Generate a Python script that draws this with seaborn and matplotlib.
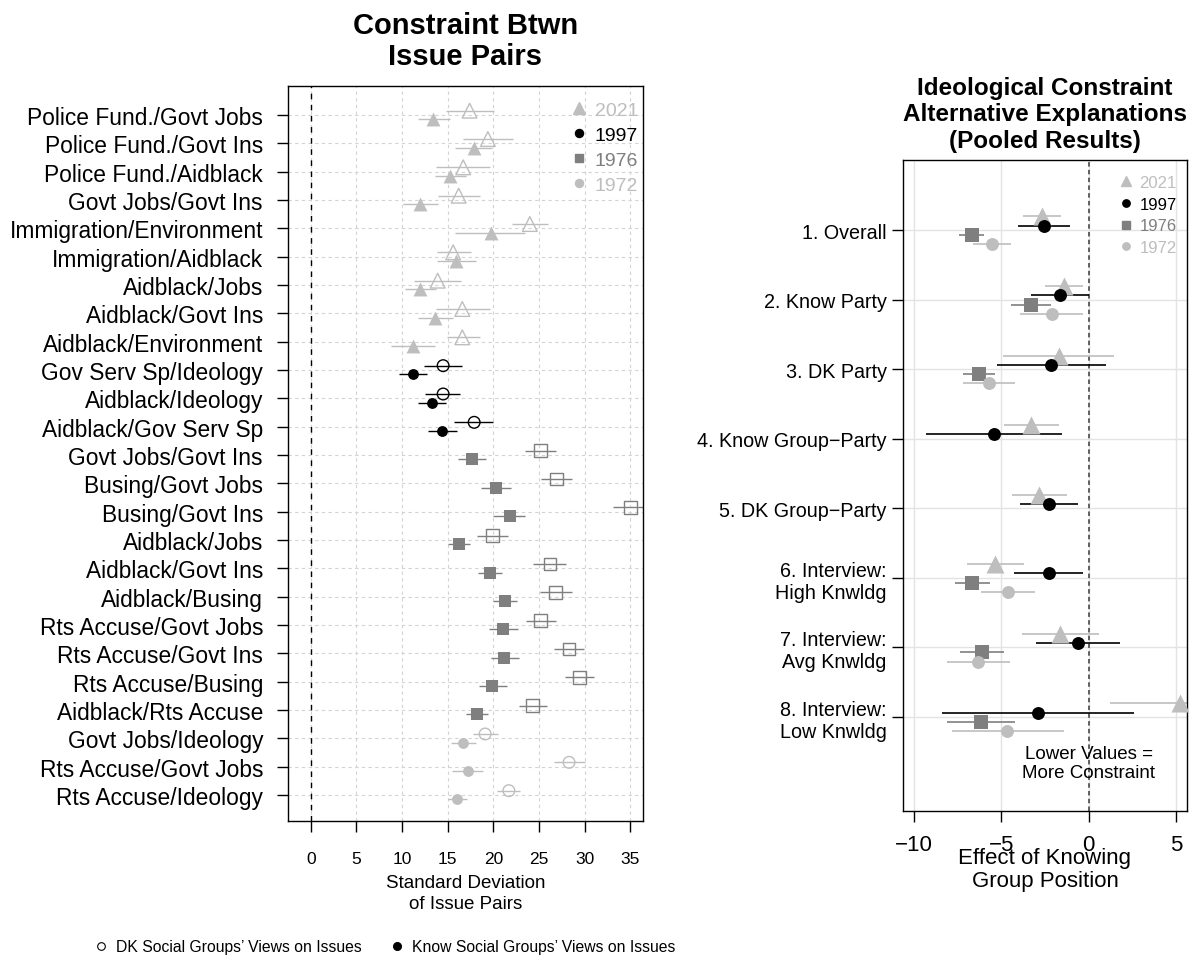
import numpy as np
import pandas as pd
import matplotlib
matplotlib.use("Agg")
import matplotlib.pyplot as plt
from matplotlib.lines import Line2D
import seaborn as sns

nan = np.nan

# ---- left panel data: SD of issue pairs ----
pairs = ["Police Fund./Govt Jobs", "Police Fund./Govt Ins", "Police Fund./Aidblack",
         "Govt Jobs/Govt Ins", "Immigration/Environment", "Immigration/Aidblack",
         "Aidblack/Jobs", "Aidblack/Govt Ins", "Aidblack/Environment",
         "Gov Serv Sp/Ideology", "Aidblack/Ideology", "Aidblack/Gov Serv Sp",
         "Govt Jobs/Govt Ins", "Busing/Govt Jobs", "Busing/Govt Ins", "Aidblack/Jobs",
         "Aidblack/Govt Ins", "Aidblack/Busing", "Rts Accuse/Govt Jobs",
         "Rts Accuse/Govt Ins", "Rts Accuse/Busing", "Aidblack/Rts Accuse",
         "Govt Jobs/Ideology", "Rts Accuse/Govt Jobs", "Rts Accuse/Ideology"]
pair_year = [2021] * 9 + [1997] * 3 + [1976] * 10 + [1972] * 3

know_est = [13.4, 17.9, 15.3, 12.0, 19.7, 15.9, 12.0, 13.6, 11.2, 11.2, 13.3, 14.4,
            17.7, 20.3, 21.8, 16.2, 19.6, 21.3, 21.1, 21.2, 19.9, 18.2, 16.7, 17.2, 16.0]
know_lo = [11.7, 15.8, 13.6, 10.1, 15.8, 13.8, 10.3, 11.7, 8.8, 9.7, 11.7, 12.8,
           16.1, 18.7, 20.0, 15.0, 18.3, 20.0, 19.5, 19.7, 18.4, 17.0, 15.4, 15.5, 15.0]
know_hi = [15.2, 19.9, 17.0, 13.9, 23.5, 18.1, 13.7, 15.6, 13.6, 12.7, 14.8, 16.0,
           19.2, 21.9, 23.5, 17.4, 21.0, 22.6, 22.7, 22.8, 21.5, 19.4, 18.1, 18.9, 17.1]
dk_est = [17.4, 19.4, 16.7, 16.2, 24.0, 15.6, 13.9, 16.6, 16.6, 14.5, 14.5, 17.9,
          25.2, 26.9, 35.0, 19.9, 26.2, 26.8, 25.2, 28.3, 29.4, 24.3, 19.1, 28.3, 21.7]
dk_lo = [14.8, 16.7, 13.7, 13.9, 22.0, 13.8, 11.3, 13.7, 14.9, 12.4, 12.5, 15.7,
         23.5, 25.2, 33.1, 18.2, 24.4, 25.1, 23.6, 26.6, 27.9, 22.8, 17.8, 26.7, 20.4]
dk_hi = [20.1, 22.2, 19.6, 18.5, 26.0, 17.5, 16.5, 19.6, 18.5, 16.6, 16.4, 20.0,
         26.9, 28.6, 36.9, 21.6, 28.0, 28.6, 26.9, 29.9, 31.0, 25.9, 20.5, 30.0, 22.9]

# ---- right panel data: pooled models ----
models = ["1. Overall", "2. Know Party", "3. DK Party", "4. Know Group\u2212Party",
          "5. DK Group\u2212Party", "6. Interview:\nHigh Knwldg",
          "7. Interview:\nAvg Knwldg", "8. Interview:\nLow Knwldg"]
est_2021 = [-2.69, -1.41, -1.72, -3.28, -2.83, -5.34, -1.64, 5.19]
lo_2021 = [-3.74, -2.50, -4.92, -4.83, -4.37, -6.95, -3.84, 1.20]
hi_2021 = [-1.59, -0.31, 1.47, -1.72, -1.26, -3.72, 0.57, 9.20]
est_1997 = [-2.56, -1.64, -2.14, -5.44, -2.29, -2.29, -0.61, -2.88]
lo_1997 = [-4.03, -3.28, -5.25, -9.31, -3.93, -4.26, -3.02, -8.36]
hi_1997 = [-1.07, 0.02, 0.99, -1.55, -0.63, -0.31, 1.79, 2.58]
est_1976 = [-6.70, -3.30, -6.30, nan, nan, -6.68, -6.11, -6.16]
lo_1976 = [-7.42, -4.47, -7.19, nan, nan, -7.67, -7.35, -8.09]
hi_1976 = [-5.97, -2.14, -5.36, nan, nan, -5.67, -4.87, -4.20]
est_1972 = [-5.53, -2.12, -5.71, nan, nan, -4.64, -6.32, -4.66]
lo_1972 = [-6.64, -3.91, -7.19, nan, nan, -6.18, -8.13, -7.82]
hi_1972 = [-4.43, -0.34, -4.24, nan, nan, -3.07, -4.49, -1.41]

years = [2021, 1997, 1976, 1972]
year_col = {2021: "#bebebe", 1997: "#000000", 1976: "#7f7f7f", 1972: "#bebebe"}
year_mk = {2021: "^", 1997: "o", 1976: "s", 1972: "o"}

sns.set_theme(style="white")
plt.rcParams["font.family"] = ["Liberation Sans", "DejaVu Sans"]
plt.rcParams["text.color"] = "black"
plt.rcParams["axes.labelcolor"] = "black"

W, H = 1196, 978
fig = plt.figure(figsize=(W / 100, H / 100), dpi=100)


def px_axes(x0, y0, x1, y1):
    return fig.add_axes([x0 / W, 1 - y1 / H, (x1 - x0) / W, (y1 - y0) / H])


# ================= left panel =================
ax = px_axes(288, 87.3, 643, 821.7)
df = pd.DataFrame({"pair": pairs, "year": pair_year, "row": np.arange(len(pairs)),
                   "know": know_est, "know_lo": know_lo, "know_hi": know_hi,
                   "dk": dk_est, "dk_lo": dk_lo, "dk_hi": dk_hi})
df["y_know"] = df["row"] + 0.15
df["y_dk"] = df["row"] - 0.15

ax.set_xlim(-2.5, 36.4)
ax.set_ylim(24.91, -1.01)
for v in range(0, 40, 5):
    ax.axvline(v, color="#d3d3d3", lw=0.8, ls=(0, (3, 3)), zorder=0)
for r in df["row"]:
    ax.axhline(r, color="#d3d3d3", lw=0.8, ls=(0, (3, 3)), zorder=0)
ax.axvline(0, color="black", lw=1.0, ls=(0, (4, 4)), zorder=1)

sizes_left = {"^": 10.0, "o": 7.8, "s": 8.6}
for yr in years:
    sub = df[df["year"] == yr]
    c, m = year_col[yr], year_mk[yr]
    ms = sizes_left[m]
    ax.hlines(sub["y_know"], sub["know_lo"], sub["know_hi"], color=c, lw=1.0, zorder=2)
    ax.hlines(sub["y_dk"], sub["dk_lo"], sub["dk_hi"], color=c, lw=1.0, zorder=2)
    sns.scatterplot(data=sub, x="know", y="y_know", marker=m, s=ms ** 2, color=c,
                    edgecolor=c, linewidth=0, ax=ax, legend=False, zorder=3)
    sns.scatterplot(data=sub, x="dk", y="y_dk", marker=m, s=(ms + 0.6) ** 2, color=c,
                    facecolor="none", edgecolor=c, linewidth=1.0, ax=ax,
                    legend=False, zorder=3)

ax.set_yticks(df["row"])
ax.set_yticklabels(pairs)
ax.set_xticks(range(0, 40, 5))
ax.tick_params(axis="y", length=8, width=1, direction="out", pad=10,
               labelsize=16.4, colors="black", left=True)
ax.tick_params(axis="x", length=8, width=1, direction="out", pad=14,
               labelsize=12.5, colors="black", bottom=True)
ax.set_xlabel("")
ax.set_ylabel("")
for s in ax.spines.values():
    s.set_color("black")
    s.set_linewidth(1.0)

leg_handles = [Line2D([], [], ls="none", marker=year_mk[y], color=year_col[y],
                      markersize={"^": 8.4, "o": 5.8, "s": 5.8}[year_mk[y]])
               for y in years]
ax.legend(leg_handles, [str(y) for y in years], loc="upper right",
          bbox_to_anchor=(1.02, 0.995), frameon=False, fontsize=14,
          labelcolor=[year_col[y] for y in years], handlelength=0.8,
          handletextpad=0.4, labelspacing=0.38, borderpad=0.6, borderaxespad=0.0)

fig.text(465.5 / W, 1 - 41.5 / H, "Constraint Btwn\nIssue Pairs", ha="center",
         va="center", fontsize=21, fontweight="bold", linespacing=1.13)
fig.text(465.5 / W, 1 - 894 / H, "Standard Deviation\nof Issue Pairs", ha="center",
         va="center", fontsize=13.5, linespacing=1.25)

# ================= right panel =================
ax2 = px_axes(903.3, 161, 1186.7, 811.7)
offsets = {2021: -0.195, 1997: -0.062, 1976: 0.072, 1972: 0.205}
est = {2021: est_2021, 1997: est_1997, 1976: est_1976, 1972: est_1972}
lo = {2021: lo_2021, 1997: lo_1997, 1976: lo_1976, 1972: lo_1972}
hi = {2021: hi_2021, 1997: hi_1997, 1976: hi_1976, 1972: hi_1972}
rows = []
for yr in years:
    for i, mdl in enumerate(models):
        rows.append({"model": mdl, "year": yr, "y": i + offsets[yr],
                     "est": est[yr][i], "lo": lo[yr][i], "hi": hi[yr][i]})
pool = pd.DataFrame(rows).dropna()

ax2.set_xlim(-10.6, 5.6)
ax2.set_ylim(8.35, -1.007)
for v in [-10, -5, 0, 5]:
    ax2.axvline(v, color="#e3e3e3", lw=1.0, zorder=0)
for i in range(len(models)):
    ax2.axhline(i, color="#e3e3e3", lw=1.0, zorder=0)
ax2.axvline(0, color="#555555", lw=1.3, ls=(0, (2.5, 1.8)), zorder=1)

sizes_right = {"^": 13.0, "o": 9.3, "s": 10.2}
for yr in years:
    sub = pool[pool["year"] == yr]
    c, m = year_col[yr], year_mk[yr]
    ax2.hlines(sub["y"], sub["lo"], sub["hi"], color=c, lw=1.2, zorder=2)
    sns.scatterplot(data=sub, x="est", y="y", marker=m, s=sizes_right[m] ** 2,
                    color=c, edgecolor=c, linewidth=0, ax=ax2, legend=False, zorder=3)

ax2.set_yticks(range(len(models)))
ax2.set_yticklabels(models)
ax2.set_xticks([-10, -5, 0, 5])
ax2.set_xticklabels(["\u221210", "\u22125", "0", "5"])
ax2.tick_params(axis="y", length=8, width=1, direction="out", pad=4,
                labelsize=14.2, colors="black", left=True)
ax2.tick_params(axis="x", length=8, width=1, direction="out", pad=9,
                labelsize=16, colors="black", bottom=True)
ax2.set_xlabel("")
ax2.set_ylabel("")
for s in ax2.spines.values():
    s.set_color("black")
    s.set_linewidth(1.0)

leg2_handles = [Line2D([], [], ls="none", marker=year_mk[y], color=year_col[y],
                       markersize={"^": 6.7, "o": 5.3, "s": 5.3}[year_mk[y]])
                for y in years]
ax2.legend(leg2_handles, [str(y) for y in years], loc="upper right",
           bbox_to_anchor=(1.017, 1.0), frameon=False, fontsize=12,
           labelcolor=[year_col[y] for y in years], handlelength=0.8,
           handletextpad=0.4, labelspacing=0.4, borderpad=0.9, borderaxespad=0.0)

ax2.text(0, 7.67, "Lower Values =\nMore Constraint", ha="center", va="center",
         fontsize=13.5, linespacing=1.15)

fig.text(1045 / W, 1 - 115 / H,
         "Ideological Constraint\nAlternative Explanations\n(Pooled Results)",
         ha="center", va="center", fontsize=17.5, fontweight="bold", linespacing=1.22)
fig.text(1045 / W, 1 - 870 / H, "Effect of Knowing\nGroup Position", ha="center",
         va="center", fontsize=16, linespacing=1.12)

# ================= bottom legend =================
bot = [Line2D([], [], ls="none", marker="o", markersize=5.5, markerfacecolor="none",
              markeredgecolor="black", markeredgewidth=0.8),
       Line2D([], [], ls="none", marker="o", markersize=5.5, color="black")]
fig.legend(bot, ["DK Social Groups\u2019 Views on Issues",
                 "Know Social Groups\u2019 Views on Issues"],
           loc="center left", bbox_to_anchor=(81 / W, 1 - 948 / H), ncol=2,
           frameon=False, fontsize=11.3, handlelength=0.8, handletextpad=0.5,
           columnspacing=1.9)

fig.savefig("out.png", dpi=100)
